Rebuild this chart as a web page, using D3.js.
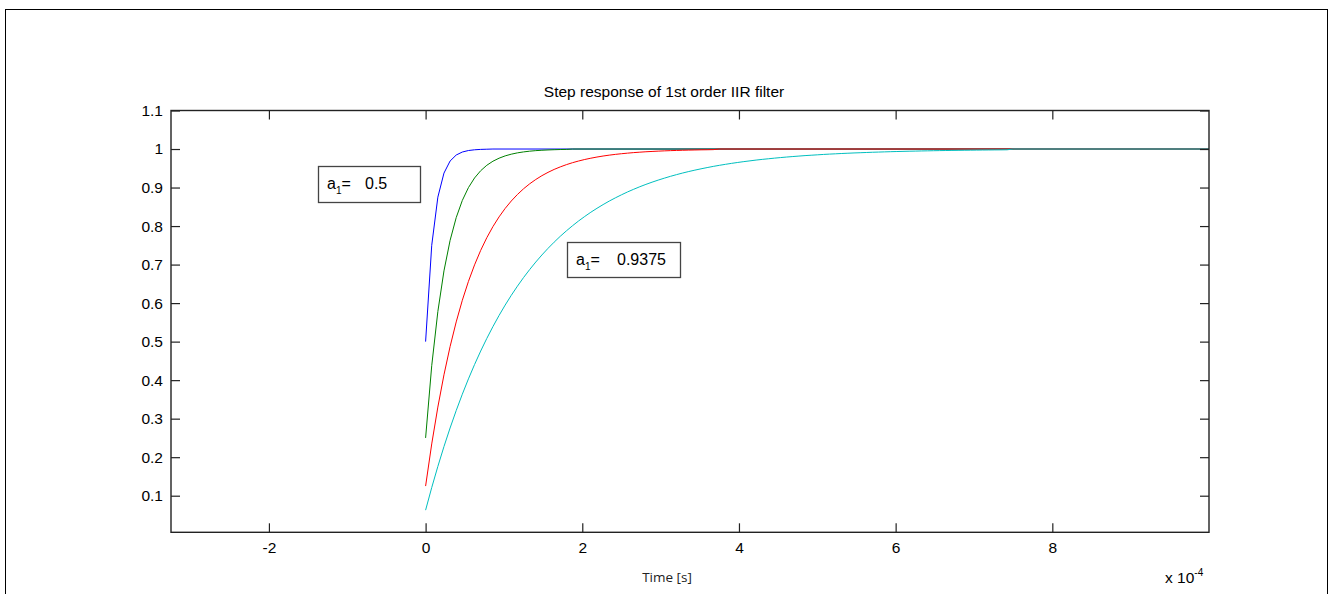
<!DOCTYPE html>
<html>
<head>
<meta charset="utf-8">
<script src="https://cdn.jsdelivr.net/npm/d3@7"></script>
<style>
    body { margin: 0; background: #fff; }
    text { font-family: "Liberation Sans", Arial, sans-serif; }
</style>
</head>
<body>
<div id="graph1"></div>
<script>
// canvas
var w = 1330;
var h = 594;

// axes box
var axLeft = 171, axRight = 1209, axTop = 110.5, axBottom = 532.3;

// data: step response samples, one per sample period
var sampleTime = 7.8125e-6;   // seconds between samples
var tEnd = 1e-3;              // end of simulation, all curves held at 1
var coefs = [0.5, 0.75, 0.875, 0.9375];
var colors = ["#0000ff", "#008000", "#ff0000", "#00bfbf"];

var resp05 = [0.5, 0.75, 0.875, 0.9375, 0.9688, 0.9844, 0.9922, 0.9961, 0.998, 0.999, 0.9995, 1];

var resp075 = [0.25, 0.4375, 0.5781, 0.6836, 0.7627, 0.822, 0.8665, 0.8999, 0.9249, 0.9437,
    0.9578, 0.9683, 0.9762, 0.9822, 0.9866, 0.99, 0.9925, 0.9944, 0.9958, 0.9968,
    0.9976, 0.9982, 0.9987, 0.999, 1];

var resp0875 = [0.125, 0.2344, 0.3301, 0.4138, 0.4871, 0.5512, 0.6073, 0.6564, 0.6993, 0.7369,
    0.7698, 0.7986, 0.8238, 0.8458, 0.8651, 0.8819, 0.8967, 0.9096, 0.9209, 0.9308,
    0.9394, 0.947, 0.9536, 0.9594, 0.9645, 0.9689, 0.9728, 0.9762, 0.9792, 0.9818,
    0.9841, 0.9861, 0.9878, 0.9893, 0.9907, 0.9918, 0.9929, 0.9937, 0.9945, 0.9952,
    0.9958, 0.9963, 0.9968, 0.9972, 0.9975, 0.9979, 0.9981, 0.9984, 1];

var resp09375 = [0.0625, 0.1211, 0.176, 0.2275, 0.2758, 0.3211, 0.3635, 0.4033, 0.4406, 0.4755,
    0.5083, 0.539, 0.5679, 0.5949, 0.6202, 0.6439, 0.6662, 0.687, 0.7066, 0.7249,
    0.7421, 0.7582, 0.7734, 0.7875, 0.8008, 0.8133, 0.8249, 0.8359, 0.8461, 0.8557,
    0.8648, 0.8732, 0.8811, 0.8886, 0.8955, 0.9021, 0.9082, 0.9139, 0.9193, 0.9243,
    0.9291, 0.9335, 0.9377, 0.9416, 0.9452, 0.9486, 0.9518, 0.9549, 0.9577, 0.9603,
    0.9628, 0.9651, 0.9673, 0.9693, 0.9713, 0.9731, 0.9747, 0.9763, 0.9778, 0.9792,
    0.9805, 0.9817, 0.9829, 0.9839, 0.9849, 0.9859, 0.9868, 0.9876, 0.9884, 0.9891,
    0.9898, 0.9904, 0.991, 0.9916, 0.9921, 0.9926, 0.9931, 0.9935, 0.9939, 0.9943,
    0.9946, 0.995, 0.9953, 0.9956, 0.9959, 0.9961, 0.9964, 0.9966, 0.9968, 0.997,
    0.9972, 0.9974, 0.9975, 0.9977, 0.9978, 0.998, 1];

var responses = [resp05, resp075, resp0875, resp09375];

// ticks
var xTickValues = [-2, 0, 2, 4, 6, 8];   // x 10^-4
var yTickValues = [0.1, 0.2, 0.3, 0.4, 0.5, 0.6, 0.7, 0.8, 0.9, 1, 1.1];

var svg = d3.select("#graph1")
    .append("svg")
    .attr("width", w)
    .attr("height", h);

// figure frame
svg.append("rect")
    .attr("x", 5.5)
    .attr("y", 9.5)
    .attr("width", 1322)
    .attr("height", 600)
    .attr("fill", "white")
    .attr("stroke", "black")
    .attr("stroke-width", 1);

//Create scale functions
var xScale = d3.scaleLinear()
    .domain([-3.25e-4, 10e-4])
    .range([axLeft, axRight]);

var yScale = d3.scaleLinear()
    .domain([0.005, 1.1])
    .range([axBottom, axTop]);

// step responses: sample index -> time, last point held to the end
var line = d3.line()
    .x(function (d) { return xScale(d.t); })
    .y(function (d) { return yScale(d.v); });

responses.forEach(function (resp, k) {
    var pts = resp.map(function (v, i) {
        return { t: i * sampleTime, v: v };
    });
    pts.push({ t: tEnd, v: resp[resp.length - 1] });
    svg.append("path")
        .datum(pts)
        .attr("d", line)
        .attr("fill", "none")
        .attr("stroke", colors[k])
        .attr("stroke-width", 1);
});

//Define axes, ticks point inward on all four sides
var xAxis = d3.axisBottom(xScale)
    .tickValues(xTickValues.map(function (d) { return d * 1e-4; }))
    .tickFormat(function (d) { return Math.round(d * 1e4); })
    .tickSizeInner(-9)
    .tickSizeOuter(0)
    .tickPadding(10);

var xAxisTop = d3.axisTop(xScale)
    .tickValues(xTickValues.map(function (d) { return d * 1e-4; }))
    .tickFormat("")
    .tickSizeInner(-9)
    .tickSizeOuter(0);

var yAxis = d3.axisLeft(yScale)
    .tickValues(yTickValues)
    .tickFormat(function (d) { return d; })
    .tickSizeInner(-9)
    .tickSizeOuter(0)
    .tickPadding(8);

var yAxisRight = d3.axisRight(yScale)
    .tickValues(yTickValues)
    .tickFormat("")
    .tickSizeInner(-9)
    .tickSizeOuter(0);

svg.append("g")
    .attr("transform", "translate(0," + axBottom + ")")
    .call(xAxis);
svg.append("g")
    .attr("transform", "translate(0," + axTop + ")")
    .call(xAxisTop);
svg.append("g")
    .attr("transform", "translate(" + axLeft + ",0)")
    .call(yAxis);
svg.append("g")
    .attr("transform", "translate(" + axRight + ",0)")
    .call(yAxisRight);

svg.selectAll(".domain").remove();
svg.selectAll(".tick line")
    .attr("stroke", "#222")
    .attr("stroke-width", 1.2);
svg.selectAll(".tick text")
    .attr("font-size", "15.5px")
    .attr("font-family", "Liberation Sans, Arial, sans-serif")
    .attr("fill", "black");

// axes box
svg.append("rect")
    .attr("x", axLeft)
    .attr("y", axTop)
    .attr("width", axRight - axLeft)
    .attr("height", axBottom - axTop)
    .attr("fill", "none")
    .attr("stroke", "#222")
    .attr("stroke-width", 1.4);

// title
svg.append("text")
    .attr("x", 664)
    .attr("y", 97)
    .attr("text-anchor", "middle")
    .attr("font-size", "15.5px")
    .attr("fill", "black")
    .text("Step response of 1st order IIR filter");

// x label
svg.append("text")
    .attr("x", 667)
    .attr("y", 582)
    .attr("text-anchor", "middle")
    .attr("font-size", "13.5px")
    .style("font-family", "'Open Sans', sans-serif")
    .attr("fill", "#222")
    .text("Time [s]");

// exponent
var expo = svg.append("text")
    .attr("x", 1165)
    .attr("y", 583)
    .attr("font-size", "15.5px")
    .attr("fill", "black");
expo.append("tspan").text("x 10");
expo.append("tspan")
    .attr("dy", -7)
    .attr("font-size", "10px")
    .text("-4");

// coefficient labels
var labels = [
    { coef: coefs[0], x: 318, y: 166, bw: 102, bh: 36, valX: 365 },
    { coef: coefs[3], x: 567, y: 242, bw: 113, bh: 35, valX: 617 }
];

labels.forEach(function (d) {
    svg.append("rect")
        .attr("x", d.x + 0.5)
        .attr("y", d.y + 0.5)
        .attr("width", d.bw)
        .attr("height", d.bh)
        .attr("fill", "white")
        .attr("stroke", "#444")
        .attr("stroke-width", 1.3);
    var t = svg.append("text")
        .attr("x", d.x + 9)
        .attr("y", d.y + 23)
        .attr("font-size", "16px")
        .attr("fill", "black");
    t.append("tspan").text("a");
    t.append("tspan")
        .attr("dy", 5)
        .attr("font-size", "10px")
        .text("1");
    t.append("tspan")
        .attr("dy", -5)
        .text("=");
    svg.append("text")
        .attr("x", d.valX)
        .attr("y", d.y + 23)
        .attr("font-size", "16px")
        .attr("fill", "black")
        .text(d.coef);
});
</script>
</body>
</html>
